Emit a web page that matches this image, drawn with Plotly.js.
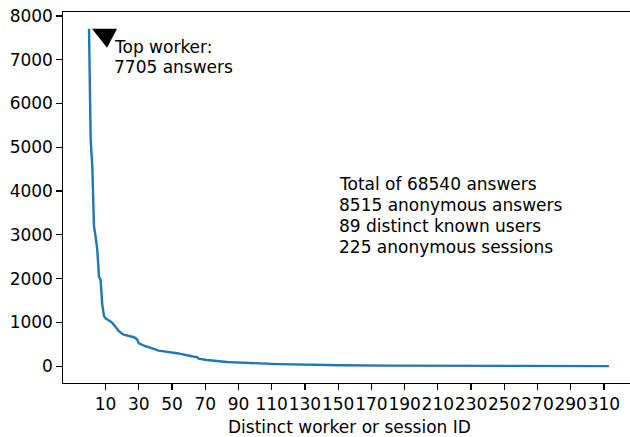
<!DOCTYPE html>
<html>
<head>
<meta charset="utf-8">
<script src="https://cdn.plot.ly/plotly-3.0.1.min.js"></script>
<style>
html, body { margin: 0; padding: 0; background: #fff; overflow: hidden; }
#chart { width: 630px; height: 437px; }
</style>
</head>
<body>
<div id="chart"></div>
<script>
// Answers per distinct worker / session, sorted descending
const answers = [
  7705, 5180, 4550, 3200, 2950, 2650, 2050, 1960, 1400, 1150,
  1090, 1070, 1050, 1020, 990, 950, 900, 850, 800, 760,
  740, 720, 710, 700, 695, 690, 680, 660, 640, 610,
  520, 500, 490, 470, 455, 445, 430, 420, 400, 390,
  380, 370, 355, 350, 345, 340, 338, 335, 332, 330,
  325, 318, 310, 300, 290, 280, 270, 260, 250, 240,
  235, 230, 225, 218, 210, 205,
  170, 160, 155, 150, 145, 140, 135, 130, 125, 120,
  115, 110, 105, 102, 100, 98, 96, 94, 92, 90,
  88, 86, 84, 82, 80, 78, 76, 75, 74, 73,
  72, 71, 70, 68, 66, 64, 62, 60, 58, 56,
  55, 54, 53, 52, 51, 50, 49, 48, 47, 46,
  45, 44, 43, 42, 41,
  40, 40, 39, 38, 38, 37, 36, 35, 35, 34, 33, 32, 32, 31, 30, 30, 29, 28, 28, 27, 26, 26, 25, 25, 24, 24, 23, 23, 22, 22,
  21, 21, 20, 20, 20, 19, 19, 18, 18, 18, 17, 17, 17, 16, 16, 16, 15, 15, 15, 15, 14, 14, 14, 13, 13, 13, 13, 12, 12, 12,
  12, 12, 11, 11, 11, 11, 10, 10, 10, 10, 10, 9, 9, 9, 9, 9, 8, 8, 8, 8, 8, 8, 7, 7, 7, 7, 7, 7, 6, 6,
  6, 6, 6, 6, 6, 6, 5, 5, 5, 5, 5, 5, 5, 5, 4, 4, 4, 4, 4, 4, 4, 4, 4, 4, 3, 3, 3, 3, 3, 3,
  3, 3, 3, 3, 3, 3, 3, 3, 3, 2, 2, 2, 2, 2, 2, 2, 2, 2, 2, 2, 2, 2, 2, 2, 2, 2, 2, 2, 2, 2, 2, 2, 2, 2, 2, 2, 1, 1, 1, 1,
  1, 1, 1, 1, 1, 1, 1, 1, 1, 1, 1, 1, 1, 1, 1, 1, 1, 1, 1, 1, 1, 1, 1, 1, 1, 1, 1, 1, 1, 1, 1, 1, 1
];
const ids = answers.map((v, i) => i);
const xTickVals = [10, 30, 50, 70, 90, 110, 130, 150, 170, 190, 210, 230, 250, 270, 290, 310];
const yTickVals = [0, 1000, 2000, 3000, 4000, 5000, 6000, 7000, 8000];
const topLabelLines = ["Top worker:", "7705 answers"];
const summaryLines = ["Total of 68540 answers", "8515 anonymous answers", "89 distinct known users", "225 anonymous sessions"];
const xTitle = "Distinct worker or session ID";

const FONT = "DejaVu Sans";
const FS = 17;

const annotations = [];
topLabelLines.forEach((t, k) => {
  annotations.push({
    x: ids[0], y: answers[0], xref: 'x', yref: 'y',
    text: t, showarrow: false, xanchor: 'left', yanchor: 'top',
    xshift: 23, yshift: -6.5 - 20 * k,
    font: { family: FONT, size: FS, color: '#000' }
  });
});
summaryLines.forEach((t, k) => {
  annotations.push({
    x: 150, y: 4400, xref: 'x', yref: 'y',
    text: t, showarrow: false, xanchor: 'left', yanchor: 'top',
    xshift: -1.5, yshift: 2 - 21 * k,
    font: { family: FONT, size: FS, color: '#000' }
  });
});
// x-axis title (placed as centred text under the axis)
annotations.push({
  x: 0.5, y: 0, xref: 'paper', yref: 'paper',
  text: xTitle, showarrow: false, xanchor: 'center', yanchor: 'top',
  xshift: 2.5, yshift: -32,
  font: { family: FONT, size: FS, color: '#000' }
});

const layout = {
  width: 630, height: 437,
  margin: { l: 63, r: 0, t: 12, b: 54, pad: 0 },
  paper_bgcolor: '#fff', plot_bgcolor: '#fff',
  showlegend: false,
  font: { family: FONT, size: FS, color: '#000' },
  xaxis: {
    range: [-15.65, 325.7], tickmode: 'array', tickvals: xTickVals, tickangle: 0,
    ticks: 'outside', ticklen: 5.5, tickwidth: 1.2, tickcolor: '#000',
    showline: true, linecolor: '#000', linewidth: 1.2, mirror: true,
    showgrid: false, zeroline: false,
    tickfont: { family: FONT, size: FS, color: '#000' }
  },
  yaxis: {
    range: [-385, 8090], tickmode: 'array', tickvals: yTickVals,
    ticks: 'outside', ticklen: 5.5, tickwidth: 1.2, tickcolor: '#000',
    showline: true, linecolor: '#000', linewidth: 1.2, mirror: false,
    showgrid: false, zeroline: false,
    tickfont: { family: FONT, size: FS, color: '#000' }
  },
  annotations: annotations,
  shapes: [{
    type: 'path', xref: 'x', yref: 'y',
    xsizemode: 'pixel', ysizemode: 'pixel',
    xanchor: ids[0], yanchor: answers[0],
    path: 'M 3,0 L 28,0 L 18,-19 Z',
    fillcolor: '#000', line: { width: 0 }
  }]
};

Plotly.newPlot('chart', [{
  type: 'scatter', mode: 'lines', x: ids, y: answers,
  line: { color: '#1f77b4', width: 2.4 }, hoverinfo: 'skip'
}], layout, { staticPlot: true, displayModeBar: false });
</script>
</body>
</html>
